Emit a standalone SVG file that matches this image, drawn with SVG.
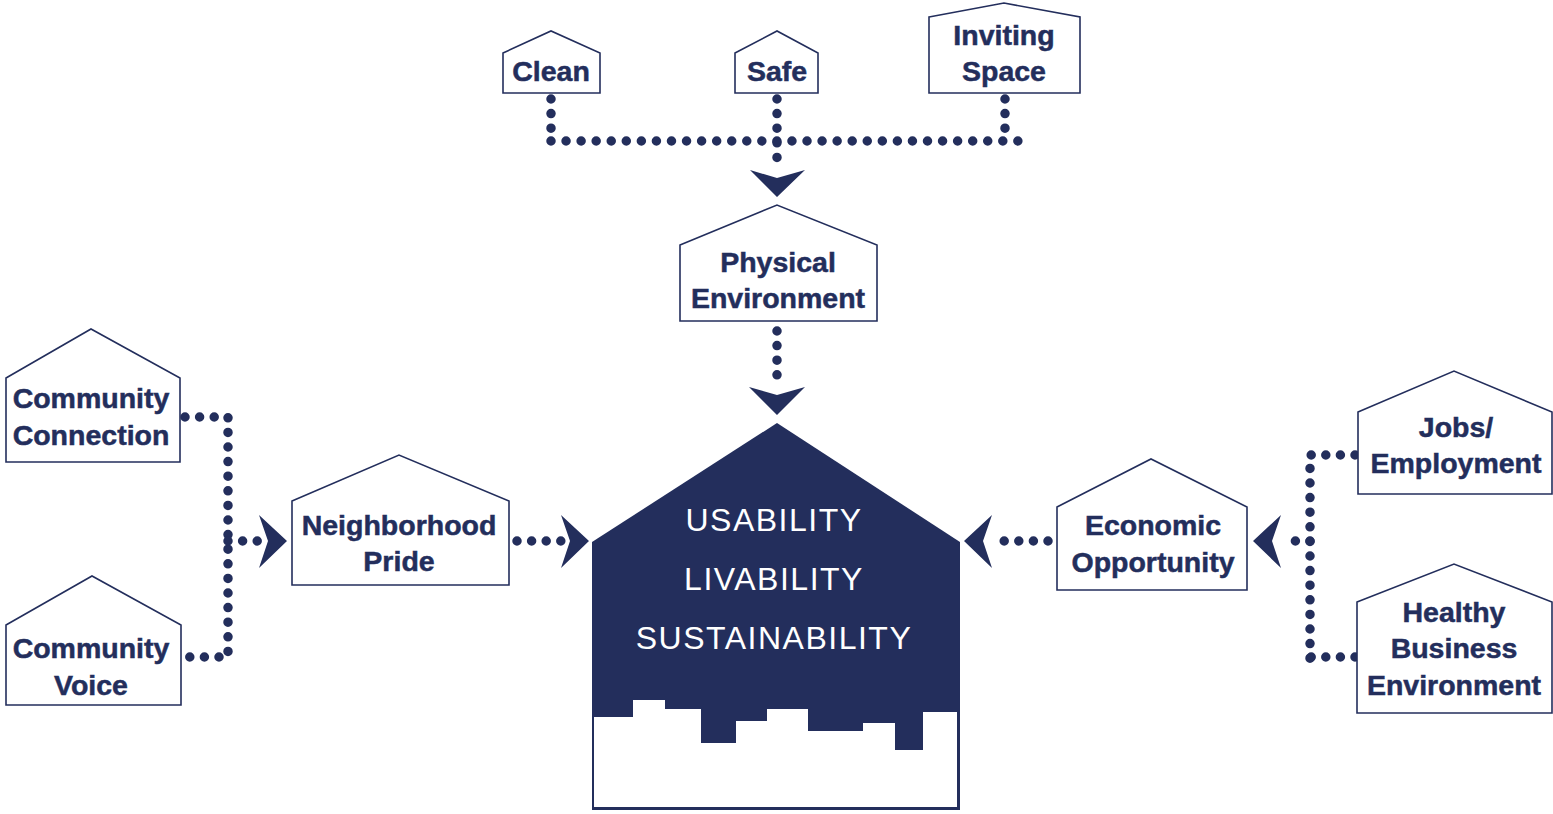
<svg xmlns="http://www.w3.org/2000/svg" width="1553" height="814" viewBox="0 0 1553 814">
<defs>
<style>
.house{fill:#fff;stroke:#232e5c;stroke-width:1.6}
.lbl{font-family:"Liberation Sans",Arial,sans-serif;font-weight:bold;font-size:28.5px;fill:#232e5c;stroke:#232e5c;stroke-width:0.5;text-anchor:middle}
.big{font-family:"Liberation Sans",Arial,sans-serif;font-size:32px;fill:#fff;text-anchor:middle;letter-spacing:1.5px}
.dots{fill:none;stroke:#232e5c;stroke-width:9.5;stroke-linecap:round;stroke-dasharray:0 14.6}
.arr{fill:#232e5c}
</style>
</defs>
<rect width="1553" height="814" fill="#fff"/>

<g id="connectors">
<path class="dots" d="M551,99 V141"/>
<path class="dots" d="M551,141 H1018" style="stroke-dasharray:0 15.06"/>
<path class="dots" d="M1005,99 V141"/>
<path class="dots" d="M777,99 V172"/>
<polygon class="arr" points="750,170 777,178 805,170 777,197"/>
<path class="dots" d="M777,331 V389"/>
<polygon class="arr" points="749,387 777,395 805,387 777,415"/>
<path class="dots" d="M185,417 H228 V657 H185"/>
<path class="dots" d="M228,541 H258"/>
<polygon class="arr" points="259,515 287,541 259,568 268,541"/>
<path class="dots" d="M517,541 H562"/>
<polygon class="arr" points="561,515 589,541 561,568 570,541"/>
<path class="dots" d="M1048,541 H992"/>
<polygon class="arr" points="992,515 964,541 992,568 983,541"/>
<path class="dots" d="M1355,455 H1310 V667"/>
<path class="dots" d="M1355,657 H1310"/>
<path class="dots" d="M1310,541 H1282"/>
<polygon class="arr" points="1281,515 1253,541 1281,568 1272,541"/>
</g>

<g id="clean">
<polygon class="house" points="503,53 551,31 600,53 600,93 503,93"/>
<text class="lbl" x="551" y="81">Clean</text>
</g>
<g id="safe">
<polygon class="house" points="735,53 777,31 818,53 818,93 735,93"/>
<text class="lbl" x="777" y="81">Safe</text>
</g>
<g id="inviting-space">
<polygon class="house" points="929,17 1004,3 1080,17 1080,93 929,93"/>
<text class="lbl" x="1004" y="45">Inviting</text>
<text class="lbl" x="1004" y="81">Space</text>
</g>
<g id="physical-environment">
<polygon class="house" points="680,245 777,205 877,245 877,321 680,321"/>
<text class="lbl" x="778" y="272">Physical</text>
<text class="lbl" x="778" y="308">Environment</text>
</g>
<g id="community-connection">
<polygon class="house" points="6,378 91,329 180,378 180,462 6,462"/>
<text class="lbl" x="91" y="408">Community</text>
<text class="lbl" x="91" y="445">Connection</text>
</g>
<g id="community-voice">
<polygon class="house" points="6,625 92,576 181,625 181,705 6,705"/>
<text class="lbl" x="91" y="658">Community</text>
<text class="lbl" x="91" y="695">Voice</text>
</g>
<g id="neighborhood-pride">
<polygon class="house" points="292,501 399,455 509,501 509,585 292,585"/>
<text class="lbl" x="399" y="535">Neighborhood</text>
<text class="lbl" x="399" y="571">Pride</text>
</g>
<g id="economic-opportunity">
<polygon class="house" points="1057,507 1151,459 1247,507 1247,590 1057,590"/>
<text class="lbl" x="1153" y="535">Economic</text>
<text class="lbl" x="1153" y="572">Opportunity</text>
</g>
<g id="jobs-employment">
<polygon class="house" points="1358,412 1454,371 1552,412 1552,494 1358,494"/>
<text class="lbl" x="1456" y="437">Jobs/</text>
<text class="lbl" x="1456" y="473">Employment</text>
</g>
<g id="healthy-business-environment">
<polygon class="house" points="1357,602 1454,564 1552,602 1552,713 1357,713"/>
<text class="lbl" x="1454" y="622">Healthy</text>
<text class="lbl" x="1454" y="658">Business</text>
<text class="lbl" x="1454" y="695">Environment</text>
</g>

<g id="main-house">
<polygon fill="#232e5c" points="777,423 960,542 960,810 592,810 592,542"/>
<polygon fill="#fff" points="594,717 633,717 633,700 665,700 665,709 701,709 701,743 736,743 736,721 767,721 767,709 808,709 808,731 863,731 863,723 895,723 895,750 923,750 923,712 957,712 957,807 594,807"/>
<text class="big" x="774" y="531">USABILITY</text>
<text class="big" x="774" y="590">LIVABILITY</text>
<text class="big" x="774" y="649">SUSTAINABILITY</text>
</g>
</svg>
